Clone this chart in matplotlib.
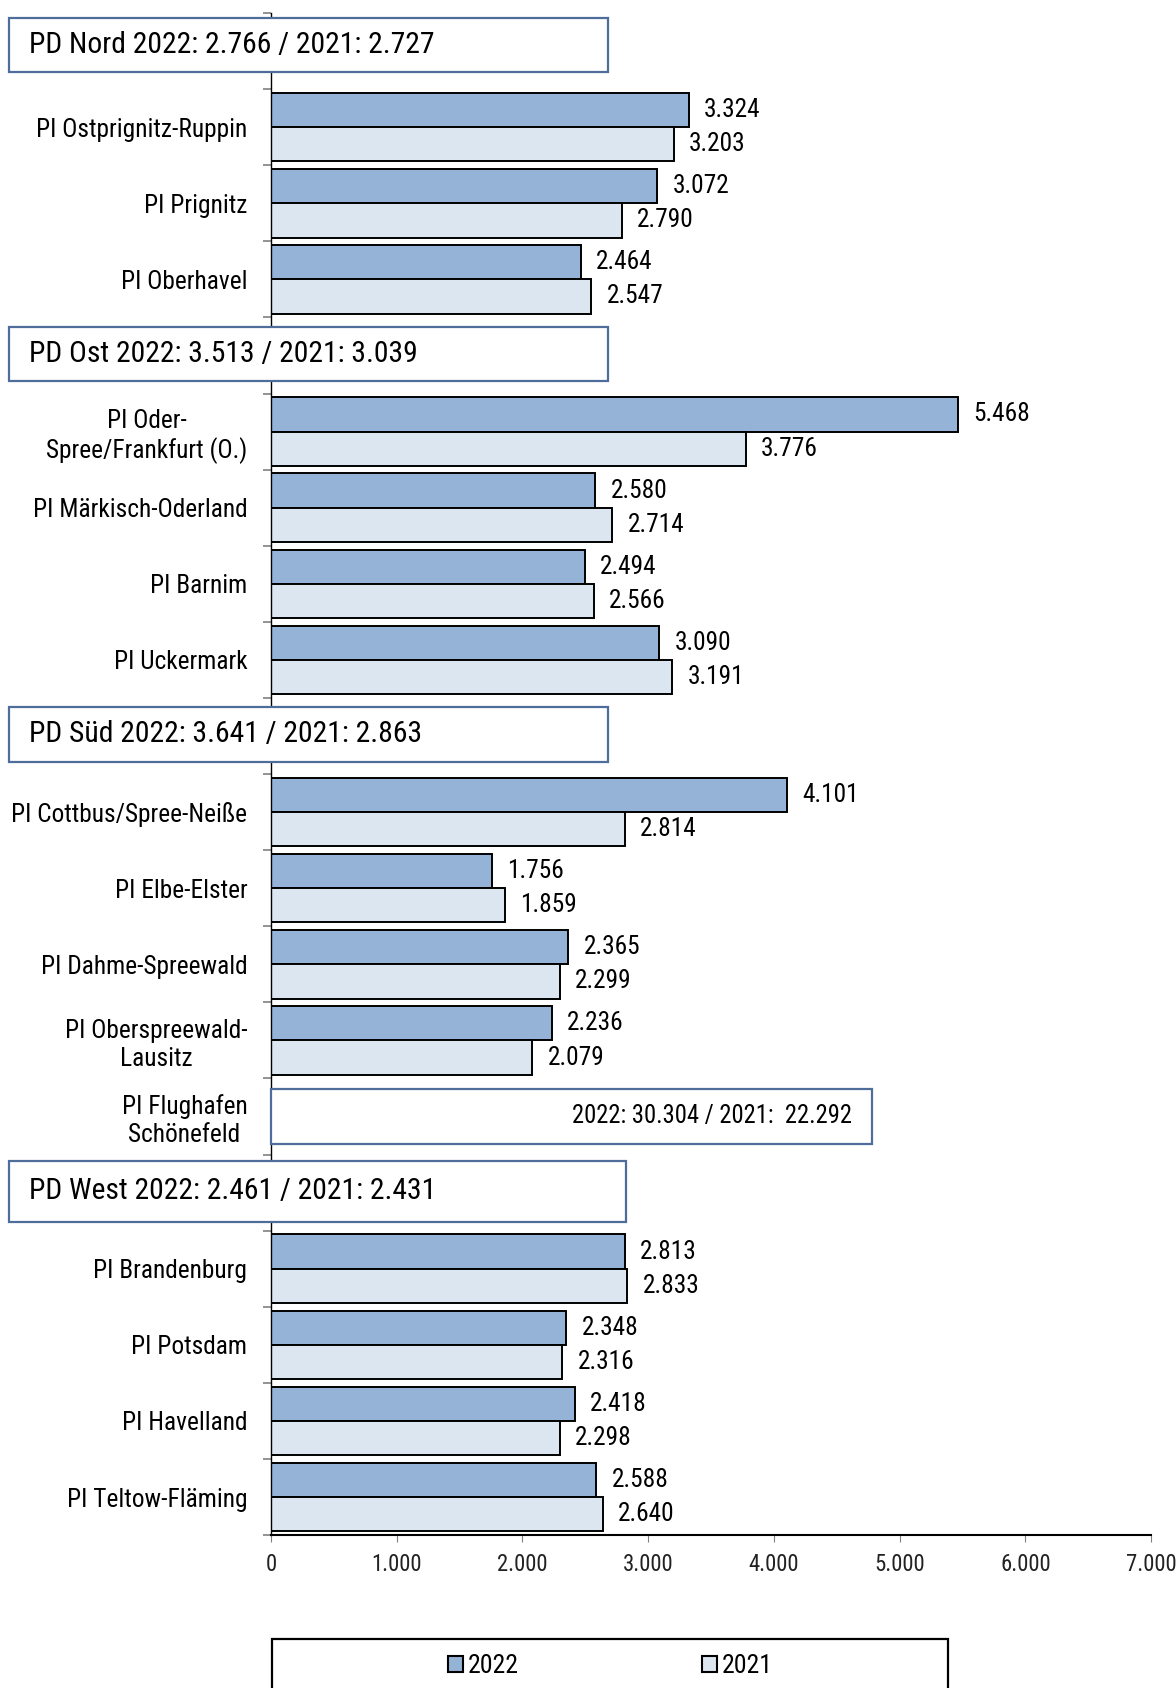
import numpy as np
import matplotlib
matplotlib.use('Agg')
import matplotlib.pyplot as plt
import matplotlib.transforms as mtransforms
from matplotlib import font_manager as fm
from matplotlib.textpath import TextPath
from matplotlib.patches import Rectangle, Patch

# rows top to bottom, '' = header row of a Polizeidirektion
labels = ['', 'PI Ostprignitz-Ruppin', 'PI Prignitz', 'PI Oberhavel',
          '', 'PI Oder-\nSpree/Frankfurt (O.)', 'PI Märkisch-Oderland', 'PI Barnim', 'PI Uckermark',
          '', 'PI Cottbus/Spree-Neiße', 'PI Elbe-Elster', 'PI Dahme-Spreewald',
          'PI Oberspreewald-\nLausitz', 'PI Flughafen\nSchönefeld',
          '', 'PI Brandenburg', 'PI Potsdam', 'PI Havelland', 'PI Teltow-Fläming']
nan = np.nan
values_2022 = [nan, 3324, 3072, 2464, nan, 5468, 2580, 2494, 3090, nan, 4101, 1756, 2365, 2236,
               nan, nan, 2813, 2348, 2418, 2588]
values_2021 = [nan, 3203, 2790, 2547, nan, 3776, 2714, 2566, 3191, nan, 2814, 1859, 2299, 2079,
               nan, nan, 2833, 2316, 2298, 2640]

pd_names = ['PD Nord', 'PD Ost', 'PD Süd', 'PD West']
pd_rows = [0, 4, 9, 15]
pd_2022 = [2766, 3513, 3641, 2461]
pd_2021 = [2727, 3039, 2863, 2431]

flughafen_row = 14
flughafen_2022 = 30304
flughafen_2021 = 22292

C22 = '#95b3d7'
C21 = '#dce6f1'
BOX = '#4f6d9a'

# pick the narrowest sans available, the original uses a condensed face
entries = fm.fontManager.ttflist


def has_font(name, stretch=None):
    return any(e.name == name and (stretch is None or e.stretch == stretch) for e in entries)


if has_font('Liberation Sans Narrow'):
    family, stretch = 'Liberation Sans Narrow', 'normal'
elif has_font('Roboto Condensed'):
    family, stretch = 'Roboto Condensed', 'normal'
elif has_font('DejaVu Sans', 'condensed'):
    family, stretch = 'DejaVu Sans', 'condensed'
elif has_font('Noto Sans', 'condensed'):
    family, stretch = 'Noto Sans', 'condensed'
else:
    family, stretch = 'DejaVu Sans', 'normal'

plt.rcParams['font.family'] = [family, 'DejaVu Sans']
plt.rcParams['font.stretch'] = stretch

# scale sizes so the label widths match the original
probe = fm.FontProperties(family=family, stretch=stretch, size=19)
w = TextPath((0, 0), 'PI Ostprignitz-Ruppin', prop=probe).get_extents().width * 100 / 72
k = min(1.1, 208 / w)
FS_LAB = 19 * k
FS_HEAD = 22.1 * k
FS_BOX = 18.4 * k
FS_TICK = 17 * k
FS_LEG = 19.2 * k


def de(v):
    return f'{v:,.0f}'.replace(',', '.')


fig = plt.figure(figsize=(11.76, 16.88), dpi=100)
ax = fig.add_axes([0.2304, 0.0906, 0.7484, 0.9017])

y = np.arange(len(labels))
v22 = np.array(values_2022, dtype=float)
v21 = np.array(values_2021, dtype=float)
ok = ~np.isnan(v22)
h = 0.45
ax.barh(y[ok] - h / 2, v22[ok], height=h, color=C22, edgecolor='black', linewidth=1.4, zorder=2)
ax.barh(y[ok] + h / 2, v21[ok], height=h, color=C21, edgecolor='black', linewidth=1.4, zorder=2)

for yi, a, b in zip(y[ok], v22[ok], v21[ok]):
    ax.annotate(de(a), (a, yi - h / 2), xytext=(11, 0), textcoords='offset points',
                va='center', ha='left', fontsize=FS_LAB)
    ax.annotate(de(b), (b, yi + h / 2), xytext=(11, 0), textcoords='offset points',
                va='center', ha='left', fontsize=FS_LAB)

ax.set_xlim(0, 7000)
ax.set_ylim(len(labels) - 0.5, -0.5)
ax.set_xticks(np.arange(0, 7001, 1000))
ax.set_xticklabels([de(t) for t in np.arange(0, 7001, 1000)], fontsize=FS_TICK, color='#222222')
ax.tick_params(axis='x', length=5, color='#808080', pad=8)

ax.set_yticks(y)
ax.set_yticklabels(labels, fontsize=FS_LAB)
for lbl in ax.get_yticklabels():
    lbl.set_multialignment('center')
ax.tick_params(axis='y', which='major', length=0, pad=17)
ax.set_yticks(np.arange(-0.5, len(labels)), minor=True)
ax.tick_params(axis='y', which='minor', length=6, color='#808080', width=1.2)

for s in ['top', 'right']:
    ax.spines[s].set_visible(False)
ax.spines['left'].set_linewidth(1.0)
ax.spines['bottom'].set_linewidth(1.5)

# header boxes: x in figure fraction, y in data units
trans = mtransforms.blended_transform_factory(fig.transFigure, ax.transData)
for name, row, a, b in zip(pd_names, pd_rows, pd_2022, pd_2021):
    bh = 0.8 if name == 'PD West' else 0.72
    yc = row - 0.08 if row == 0 else row - 0.02
    x1 = 0.532 if name == 'PD West' else 0.517
    ax.add_patch(Rectangle((0.0077, yc - bh / 2), x1 - 0.0077, bh, transform=trans,
                           facecolor='white', edgecolor=BOX, linewidth=1.6,
                           clip_on=False, zorder=5))
    ax.text(0.0247, yc, f'{name} 2022: {de(a)} / 2021: {de(b)}', transform=trans,
            ha='left', va='center', fontsize=FS_HEAD, zorder=6)

ax.add_patch(Rectangle((0, flughafen_row - 0.36), 4780, 0.72, facecolor='white',
                       edgecolor=BOX, linewidth=1.6, clip_on=False, zorder=5))
ax.text(4620, flughafen_row, f'2022: {de(flughafen_2022)} / 2021:  {de(flughafen_2021)}',
        ha='right', va='center', fontsize=FS_BOX, zorder=6)

# legend box, cut off at the bottom edge as in the original
fig.patches.append(Rectangle((272 / 1176, -0.02), (948 - 272) / 1176, 0.049,
                             transform=fig.transFigure, facecolor='none',
                             edgecolor='black', linewidth=1.6))
handles = [Patch(facecolor=C22, edgecolor='black', linewidth=1.5, label='2022'),
           Patch(facecolor=C21, edgecolor='black', linewidth=1.5, label='2021')]
fig.legend(handles=handles, loc='center', bbox_to_anchor=(0.519, 0.013), ncol=2,
           frameon=False, fontsize=FS_LEG, handlelength=0.6, handleheight=0.6,
           handletextpad=0.2, columnspacing=7.3 * 18 / FS_LEG)

fig.savefig('out.png', dpi=100)
